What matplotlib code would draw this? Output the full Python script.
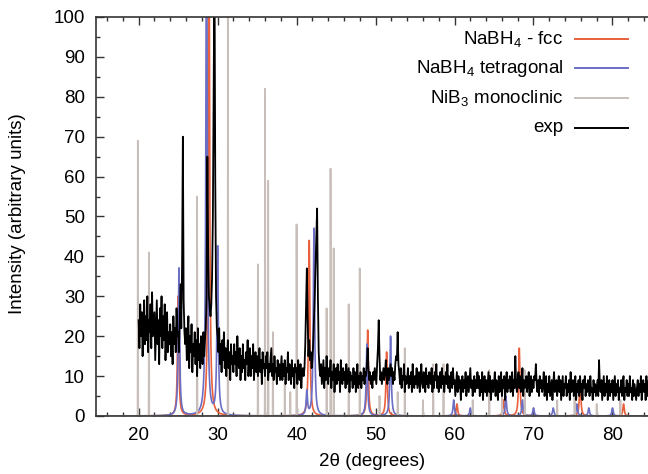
import numpy as np
import matplotlib
matplotlib.use('agg')
import matplotlib.pyplot as plt
from matplotlib.ticker import MultipleLocator

plt.rcParams['font.family'] = ['Liberation Sans', 'DejaVu Sans']
plt.rcParams['mathtext.fontset'] = 'custom'
plt.rcParams['mathtext.rm'] = 'Liberation Sans'
plt.rcParams['mathtext.default'] = 'regular'

# simulated patterns: peak positions (2theta) and heights
fcc_pos = [25.0, 28.9, 41.6, 49.0, 51.4, 60.3, 66.2, 68.2, 75.9, 81.4]
fcc_int = [30, 130, 44, 21.5, 16, 3, 4, 17, 9.5, 3]

tet_pos = [25.1, 28.6, 30.0, 41.3, 42.2, 48.9, 51.9, 59.9, 62.0, 66.5, 68.6, 70.0, 72.5, 75.5, 77.0, 80.0]
tet_int = [37, 130, 42, 6, 47, 18, 20, 4, 2, 5, 4, 2, 2, 3, 2, 2]

nib3_pos = [19.9, 21.3, 27.4, 31.3, 35.1, 36.0, 36.4, 37.0, 38.5, 39.2, 40.0, 43.8, 44.3, 44.7,
            46.6, 48.0, 50.5, 52.8, 53.7, 56.0, 57.3, 58.6, 62.3, 64.4, 66.0, 68.9, 73.0, 75.2, 78.0, 81.0]
nib3_int = [69, 41, 55, 100, 38, 82, 59, 21, 8, 6, 48, 27, 62, 42,
            28, 37, 5, 6, 17, 4, 13, 13, 4, 11.5, 5, 11.5, 4, 5, 3, 4]

# measured pattern, 0.1 deg steps from 20.0
exp_start = 20.0
exp_int = [
    24, 17, 28, 20, 26, 15, 23, 29, 18, 25,
    19, 30, 16, 24, 21, 28, 17, 31, 20, 23,
    26, 14, 22, 29, 18, 24, 13, 27, 20, 30,
    17, 25, 19, 28, 14, 22, 26, 16, 21, 18,
    23, 15, 21, 13, 25, 18, 22, 16, 27, 20,
    21, 16, 24, 33, 22, 38, 70, 29, 21, 18,
    22, 14, 19, 25, 12, 20, 16, 23, 11, 18,
    15, 21, 13, 19, 10, 22, 14, 18, 12, 20,
    17, 13, 21, 15, 19, 22, 30, 65, 42, 30,
    27, 25, 28, 35, 50, 80, 115, 60, 30, 22,
    20, 16, 22, 13, 18, 11, 19, 14, 21, 12,
    17, 10, 15, 19, 12, 16, 9, 18, 13, 15,
    11, 18, 13, 16, 10, 20, 14, 12, 17, 9,
    15, 11, 18, 12, 14, 9, 16, 13, 19, 10,
    14, 17, 10, 15, 12, 18, 9, 13, 16, 11,
    15, 10, 13, 17, 11, 14, 8, 16, 12, 13,
    10, 15, 12, 16, 9, 13, 11, 14, 17, 10,
    13, 9, 15, 11, 12, 8, 14, 10, 13, 9,
    12, 15, 9, 13, 10, 14, 8, 12, 11, 16,
    9, 13, 11, 8, 14, 10, 12, 7, 13, 11,
    12, 8, 14, 10, 9, 13, 7, 11, 12, 10,
    12, 18, 28, 37, 25, 15, 19, 14, 16, 12,
    14, 18, 24, 30, 38, 45, 52, 30, 16, 12,
    10, 13, 8, 11, 14, 7, 12, 9, 15, 10,
    8, 12, 10, 14, 7, 11, 9, 13, 6, 10,
    12, 8, 13, 9, 11, 6, 14, 10, 8, 12,
    9, 11, 7, 13, 8, 10, 12, 6, 11, 9,
    10, 7, 12, 8, 11, 6, 9, 13, 7, 10,
    8, 11, 7, 10, 9, 12, 8, 11, 10, 13,
    17, 12, 9, 11, 8, 10, 7, 11, 9, 12,
    10, 8, 13, 17, 24, 15, 9, 11, 8, 10,
    12, 9, 11, 14, 10, 8, 12, 9, 11, 13,
    10, 12, 8, 11, 9, 13, 15, 14, 21, 13,
    11, 8, 12, 7, 10, 9, 13, 6, 10, 8,
    9, 12, 7, 10, 8, 11, 6, 13, 9, 7,
    10, 8, 12, 7, 9, 11, 6, 10, 13, 8,
    7, 11, 9, 6, 12, 8, 10, 7, 11, 9,
    8, 12, 6, 10, 7, 11, 9, 13, 7, 10,
    6, 9, 11, 7, 12, 8, 10, 6, 9, 11,
    8, 13, 7, 10, 6, 9, 11, 7, 12, 8,
    9, 5, 8, 11, 6, 10, 7, 9, 4, 8,
    10, 6, 9, 7, 11, 5, 8, 10, 6, 9,
    12, 7, 9, 5, 8, 10, 6, 9, 7, 11,
    7, 10, 5, 9, 6, 11, 4, 8, 10, 6,
    9, 5, 8, 11, 6, 10, 4, 7, 9, 6,
    8, 11, 5, 9, 7, 4, 10, 6, 8, 11,
    5, 9, 7, 10, 4, 8, 11, 6, 9, 7,
    10, 6, 8, 11, 5, 9, 7, 15, 8, 6,
    9, 11, 7, 10, 6, 8, 12, 5, 9, 7,
    8, 10, 6, 9, 11, 5, 8, 10, 6, 9,
    7, 10, 9, 13, 8, 6, 9, 5, 10, 7,
    9, 6, 8, 11, 5, 7, 10, 4, 8, 6,
    10, 5, 7, 9, 4, 8, 11, 6, 7, 9,
    5, 8, 10, 6, 9, 4, 7, 10, 5, 8,
    7, 10, 5, 8, 6, 9, 4, 11, 6, 8,
    9, 5, 7, 10, 4, 8, 6, 9, 5, 10,
    6, 8, 4, 9, 7, 10, 5, 8, 6, 9,
    8, 5, 10, 6, 7, 4, 9, 6, 8, 5,
    7, 9, 5, 14, 8, 6, 9, 4, 7, 10,
    5, 8, 6, 10, 4, 7, 9, 5, 8, 6,
    9, 4, 7, 10, 5, 8, 6, 9, 4, 7,
    6, 9, 5, 8, 10, 4, 7, 6, 9, 5,
    8, 5, 10, 6, 7, 4, 9, 5, 8, 6,
    4, 7, 9, 5, 8, 6, 10, 4, 7, 9,
    6, 8, 4, 10, 5, 7, 9, 5, 8, 6,
    7,
]

labels = ['NaBH$_4$ - fcc', 'NaBH$_4$ tetragonal', 'NiB$_3$ monoclinic', 'exp']
colors = ['#e8603c', '#6b6fc4', '#c9bfba', '#000000']


def lorentz(pos, hgt, fwhm, grid):
    y = np.zeros_like(grid)
    for p, h in zip(pos, hgt):
        y += h / (1 + ((grid - p) / (fwhm / 2)) ** 2)
    return y


def gauss(pos, hgt, sig, grid):
    y = np.zeros_like(grid)
    for p, h in zip(pos, hgt):
        y += h * np.exp(-0.5 * ((grid - p) / sig) ** 2)
    return y


grid = np.arange(14.6, 85.5, 0.004)
exp_x = exp_start + 0.1 * np.arange(len(exp_int))

fig = plt.figure(figsize=(6.48, 4.74), dpi=100)
ax = fig.add_axes([96 / 648, 58 / 474, 552 / 648, 399 / 474])

ax.plot(grid, lorentz(fcc_pos, fcc_int, 0.2, grid), color=colors[0], lw=1.2)
ax.plot(grid, lorentz(tet_pos, tet_int, 0.2, grid), color=colors[1], lw=1.2)
ax.plot(grid, gauss(nib3_pos, nib3_int, 0.012, grid), color=colors[2], lw=1.3)
ax.plot(exp_x, exp_int, color=colors[3], lw=1.3)

ax.set_xlim(14.6, 84.5)
ax.set_ylim(0, 100)
ax.xaxis.set_major_locator(MultipleLocator(10))
ax.xaxis.set_minor_locator(MultipleLocator(2))
ax.yaxis.set_major_locator(MultipleLocator(10))
ax.yaxis.set_minor_locator(MultipleLocator(5))
ax.tick_params(which='both', direction='in', top=True, right=False, labelsize=13.5, color='#333333')
ax.tick_params(which='major', length=6, width=1)
ax.tick_params(which='minor', length=3, width=1)
ax.tick_params(axis='x', pad=8)
ax.tick_params(axis='y', pad=8)
ax.spines['right'].set_visible(False)
for s in ['left', 'bottom', 'top']:
    ax.spines[s].set_color('#333333')
    ax.spines[s].set_linewidth(1.2)

fig.text(18 / 648, 1 - 214 / 474, 'Intensity (arbitrary units)', rotation=90,
         ha='center', va='center', fontsize=13.5)
fig.text(372 / 648, 1 - 462 / 474, '2θ (degrees)', ha='center', va='center', fontsize=13.5)

# key
key_y = [0.945, 0.872, 0.797, 0.722]
for lab, col, yy in zip(labels, colors, key_y):
    ax.text(0.846, yy, lab, transform=ax.transAxes, ha='right', va='center', fontsize=13.5)
    ax.plot([0.868, 0.964], [yy, yy], transform=ax.transAxes, color=col, lw=1.4)

fig.savefig('out.png', dpi=100)
